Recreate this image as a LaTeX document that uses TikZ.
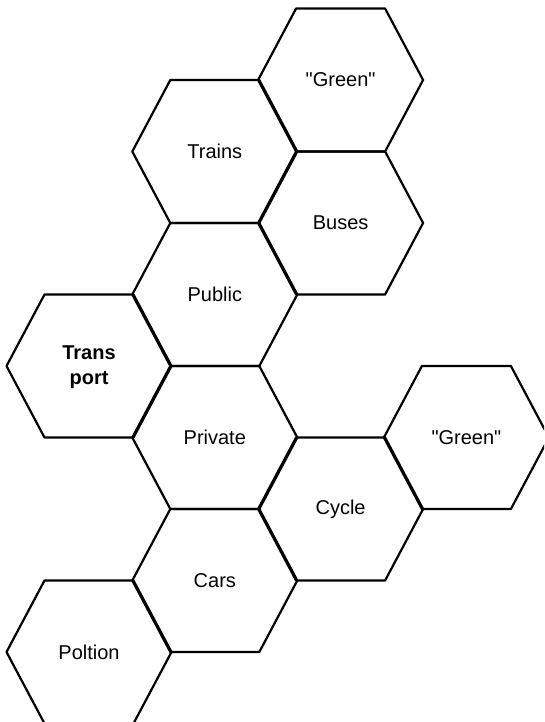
\documentclass[tikz,border=0pt]{standalone}
\usepackage{fontspec}
\newfontfamily\hexfont{Liberation Sans}
\begin{document}
\begin{tikzpicture}[x=1pt,y=-1pt,
  hexline/.style={draw=black,line width=2.2pt,line join=round},
  hextext/.style={font=\hexfont\fontsize{20}{25}\selectfont,align=center,inner sep=0pt},
  boldtext/.style={font=\hexfont\fontsize{20}{25}\selectfont\bfseries,align=center,inner sep=0pt}]
\useasboundingbox (0,0) rectangle (544,722);
\clip (0,0) rectangle (544,722);
\newcommand\hexpath[2]{%
  \draw[hexline] (#1-82.5,#2) -- (#1-44.5,#2-71.5) -- (#1+44.5,#2-71.5) -- (#1+82.5,#2)
    -- (#1+44.5,#2+71.5) -- (#1-44.5,#2+71.5) -- cycle;}
\hexpath{340.6}{80}
\hexpath{214.8}{151.5}
\hexpath{340.6}{223}
\hexpath{214.8}{294.5}
\hexpath{89}{366}
\hexpath{214.8}{437.5}
\hexpath{466.4}{437.5}
\hexpath{340.6}{509}
\hexpath{214.8}{580.5}
\hexpath{89}{652}
\node[hextext] (green1) at (340.6,80) {"Green"};
\node[hextext] (trains) at (214.8,151.5) {Trains};
\node[hextext] (buses) at (340.6,223) {Buses};
\node[hextext] (public) at (214.8,294.5) {Public};
\node[boldtext] (transport) at (89,367) {Trans\\port};
\node[hextext] (private) at (214.8,437.5) {Private};
\node[hextext] (green2) at (466.4,437.5) {"Green"};
\node[hextext] (cycle) at (340.6,509) {Cycle};
\node[hextext] (cars) at (214.8,580.5) {Cars};
\node[hextext] (poltion) at (89,652) {Poltion};
\end{tikzpicture}
\end{document}
